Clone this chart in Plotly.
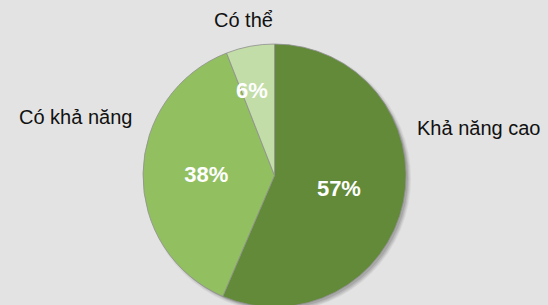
import math
import plotly.graph_objects as go

labels = ["Khả năng cao", "Có khả năng", "Có thể"]
values = [57, 38, 6]
pct_text = ["57%", "38%", "6%"]
colors = ["#628A38", "#92C060", "#C2DDA7"]

W, H = 548, 312   # slightly taller than the 305px window: the pie bottom is cut off in the reference
cx, cy, r = 274.5, 175.5, 131.5

def dom(cx, cy, r):
    y0 = max(0.0, (H - (cy + r)) / H)
    y1 = min(1.0, (H - (cy - r)) / H)
    return dict(x=[(cx - r) / W, (cx + r) / W], y=[y0, y1])

fig = go.Figure()

# soft drop shadow
for off, extra, a in [(3, 2, 0.05), (3, 1, 0.06), (3, 0, 0.08), (2, 0, 0.10)]:
    fig.add_trace(go.Pie(
        values=[sum(values)], labels=["shadow"], domain=dom(cx + off, cy + off, r + extra),
        marker=dict(colors=[f"rgba(0,0,0,{a})"], line=dict(width=0)),
        textinfo="none", hoverinfo="skip", showlegend=False, sort=False))

# small slices get their label placed manually at the slice's mid-angle
total = sum(values)
small = [v / total < 0.1 for v in values]
textpos = ["none" if s else "inside" for s in small]

fig.add_trace(go.Pie(
    labels=labels, values=values, text=pct_text,
    domain=dom(cx, cy, r),
    sort=False, direction="clockwise", rotation=0,
    marker=dict(colors=colors, line=dict(color="#8f8f8f", width=0.8)),
    textinfo="text", textposition=textpos, insidetextorientation="horizontal",
    textfont=dict(family="Liberation Sans, Arial, sans-serif", size=22, color="white", weight="bold"),
    showlegend=False, hoverinfo="label+text"))

cum = 0
for v, t, s in zip(values, pct_text, small):
    mid = (cum + v / 2) / total * 2 * math.pi
    cum += v
    if not s:
        continue
    rr = 0.66 * r
    px = cx + rr * math.sin(mid) - 6
    py = cy - rr * math.cos(mid)
    fig.add_annotation(x=px / W, y=1 - py / H, xref="paper", yref="paper", text=t,
                       showarrow=False, xanchor="center", yanchor="middle",
                       font=dict(family="Liberation Sans, Arial, sans-serif", size=22,
                                 color="white", weight="bold"))

label_pos = [(415, 128, "left"), (17, 117, "left"), (243, 20, "center")]
for lab, (x, y, anc) in zip(labels, label_pos):
    fig.add_annotation(x=x / W, y=1 - y / H, xref="paper", yref="paper", text=lab,
                       showarrow=False, xanchor=anc, yanchor="middle",
                       font=dict(family="Liberation Sans, Arial, sans-serif", size=20, color="#111111"))

fig.update_layout(
    width=W, height=H, margin=dict(l=0, r=0, t=0, b=0),
    paper_bgcolor="#E3E3E3", plot_bgcolor="#E3E3E3",
    uniformtext=dict(minsize=22, mode="show"),
)

fig.write_html("out.html", config={"displayModeBar": False},
               post_script="document.body.style.margin='0';document.body.style.overflow='hidden';"
                           "document.documentElement.style.overflow='hidden';")
